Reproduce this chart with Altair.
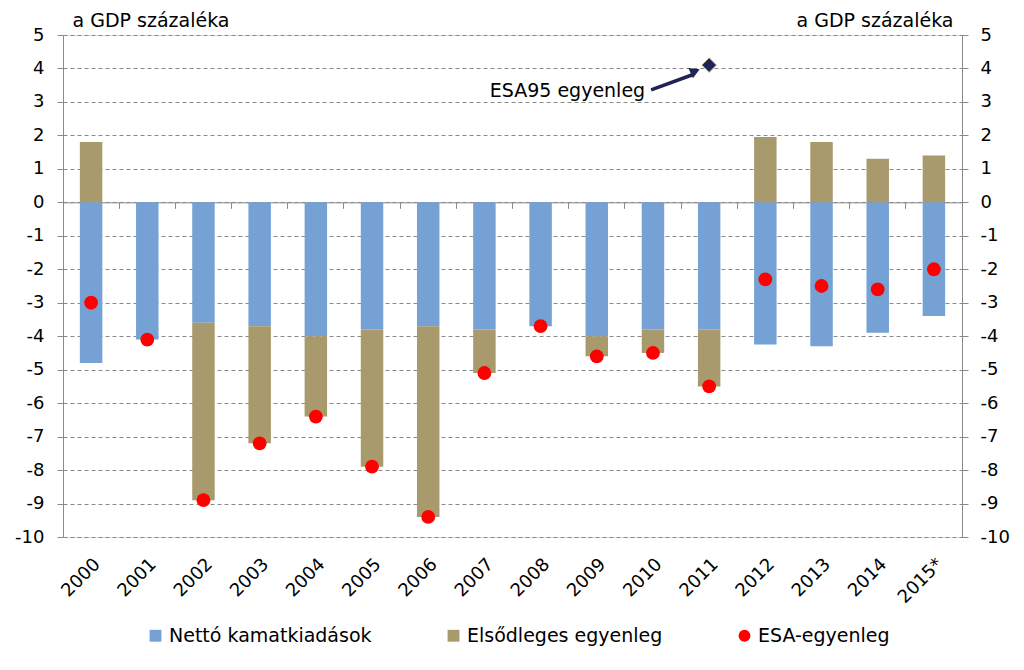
import altair as alt
import pandas as pd

# ---- data ----
years = ["2000", "2001", "2002", "2003", "2004", "2005", "2006", "2007",
         "2008", "2009", "2010", "2011", "2012", "2013", "2014", "2015*"]
interest = [-4.8, -4.1, -3.6, -3.7, -4.0, -3.8, -3.7, -3.8,
            -3.7, -4.0, -3.8, -3.8, -4.25, -4.3, -3.9, -3.4]
primary = [1.8, 0.0, -5.3, -3.5, -2.4, -4.1, -5.7, -1.3,
           0.0, -0.6, -0.7, -1.7, 1.95, 1.8, 1.3, 1.4]
esa = [-3.0, -4.1, -8.9, -7.2, -6.4, -7.9, -9.4, -5.1,
       -3.7, -4.6, -4.5, -5.5, -2.3, -2.5, -2.6, -2.0]
esa95_year = ["2011"]
esa95_value = [4.1]
arrow_from = [3.36]
arrow_to = [3.82]
arrow_tip = [3.92]
label_level = [3.34]

series_names = ["Nettó kamatkiadások", "Elsődleges egyenleg", "ESA-egyenleg"]
series_colors = ["#75A1D4", "#A89A6C", "#FF0000"]
series_shapes = ["square", "square", "circle"]
y_ticks = list(range(-10, 6))
unit_title = "a GDP százaléka"
annotation_text = "ESA95 egyenleg"

FONT = "DejaVu Sans"
GRAY = "#8A8A8A"
LABEL_EXPR = "'' + datum.value"

n = len(years)
bars_df = pd.DataFrame({
    "year": years * 2,
    "series": [series_names[0]] * n + [series_names[1]] * n,
    "value": interest + primary,
    "ord": [0] * n + [1] * n,
})
esa_df = pd.DataFrame({"year": years, "series": [series_names[2]] * n, "value": esa})
esa95_df = pd.DataFrame({"year": esa95_year, "value": esa95_value,
                         "a0": arrow_from, "a1": arrow_to, "tip": arrow_tip,
                         "lbl": label_level, "text": [annotation_text]})

x_scale = alt.Scale(domain=years, paddingInner=0, paddingOuter=0)
y_scale = alt.Scale(domain=[-10, 5], nice=False, zero=False)
color_scale = alt.Scale(domain=series_names, range=series_colors)
shape_scale = alt.Scale(domain=series_names, range=series_shapes)

legend = alt.Legend(
    title=None, orient="none", legendX=83, legendY=591, direction="horizontal",
    columns=3, columnPadding=72, labelFont=FONT, labelFontSize=19, labelLimit=0,
    labelColor="black", symbolSize=140, symbolStrokeWidth=0, labelOffset=4,
    padding=0, symbolOpacity=1,
)

bars = alt.Chart(bars_df).mark_bar(width=alt.RelativeBandSize(0.4)).encode(
    x=alt.X("year:N", scale=x_scale, sort=years,
            axis=alt.Axis(orient="bottom", offset=-334.67, labels=False, title=None,
                          domain=True, domainColor=GRAY, domainWidth=1,
                          ticks=True, tickColor=GRAY, tickSize=6, bandPosition=0,
                          grid=False)),
    y=alt.Y("value:Q", stack="zero", scale=y_scale,
            axis=alt.Axis(orient="left", values=y_ticks, labelExpr=LABEL_EXPR,
                          grid=True, gridColor=GRAY, gridDash=[4, 3], gridWidth=1,
                          domain=True, domainColor=GRAY, ticks=True, tickColor=GRAY,
                          tickSize=6, labelFont=FONT, labelFontSize=18,
                          labelColor="black", labelPadding=13,
                          title=unit_title, titleAngle=0, titleX=9, titleY=-9,
                          titleAlign="left", titleBaseline="alphabetic",
                          titleFont=FONT, titleFontSize=19, titleFontWeight="normal",
                          titleColor="black")),
    color=alt.Color("series:N", scale=color_scale, legend=legend),
    order=alt.Order("ord:Q"),
)

points = alt.Chart(esa_df).mark_point(filled=True, size=190, opacity=1).encode(
    x=alt.X("year:N", scale=x_scale, sort=years,
            axis=alt.Axis(orient="bottom", labelAngle=-45, labelFont=FONT,
                          labelFontSize=18, labelColor="black", labelPadding=18,
                          domain=False, ticks=False, grid=False, title=None,
                          labelOverlap=False)),
    y=alt.Y("value:Q", scale=y_scale,
            axis=alt.Axis(orient="right", values=y_ticks, labelExpr=LABEL_EXPR,
                          grid=False,
                          domain=True, domainColor=GRAY, ticks=True, tickColor=GRAY,
                          tickSize=6, labelFont=FONT, labelFontSize=18,
                          labelColor="black", labelPadding=12,
                          title=unit_title, titleAngle=0, titleX=-9, titleY=-9,
                          titleAlign="right", titleBaseline="alphabetic",
                          titleFont=FONT, titleFontSize=19, titleFontWeight="normal",
                          titleColor="black")),
    color=alt.Color("series:N", scale=color_scale, legend=legend),
    shape=alt.Shape("series:N", scale=shape_scale, legend=legend),
)

base95 = alt.Chart(esa95_df)

arrow_line = base95.mark_rule(color="#1F2454", strokeWidth=3.5, xOffset=-58, x2Offset=-16).encode(
    x=alt.X("year:N", scale=x_scale, axis=None),
    x2="year:N",
    y=alt.Y("a0:Q", scale=y_scale, axis=None),
    y2="a1:Q",
)

arrow_head = base95.mark_point(shape="triangle-right", filled=True, size=130, angle=336,
                               color="#1F2454", opacity=1, xOffset=-14).encode(
    x=alt.X("year:N", scale=x_scale, axis=None),
    y=alt.Y("tip:Q", scale=y_scale, axis=None),
)

diamond = base95.mark_point(shape="diamond", filled=True, size=210, color="#1F2454",
                            stroke="#B8A878", strokeWidth=1, opacity=1).encode(
    x=alt.X("year:N", scale=x_scale, axis=None),
    y=alt.Y("value:Q", scale=y_scale, axis=None),
)

label = base95.mark_text(align="right", baseline="middle", dx=-64, font=FONT,
                         fontSize=19, color="black").encode(
    x=alt.X("year:N", scale=x_scale, axis=None),
    y=alt.Y("lbl:Q", scale=y_scale, axis=None),
    text="text:N",
)

chart = alt.layer(bars, points, arrow_line, arrow_head, diamond, label).resolve_axis(
    x="independent", y="independent"
).properties(
    width=899, height=502,
    autosize=alt.AutoSizeParams(type="none"),
    padding={"left": 55, "top": 27, "right": 54, "bottom": 125},
).configure_view(stroke=None).configure(background="white")

chart.save("out.html", embed_options={"renderer": "svg", "actions": False})
